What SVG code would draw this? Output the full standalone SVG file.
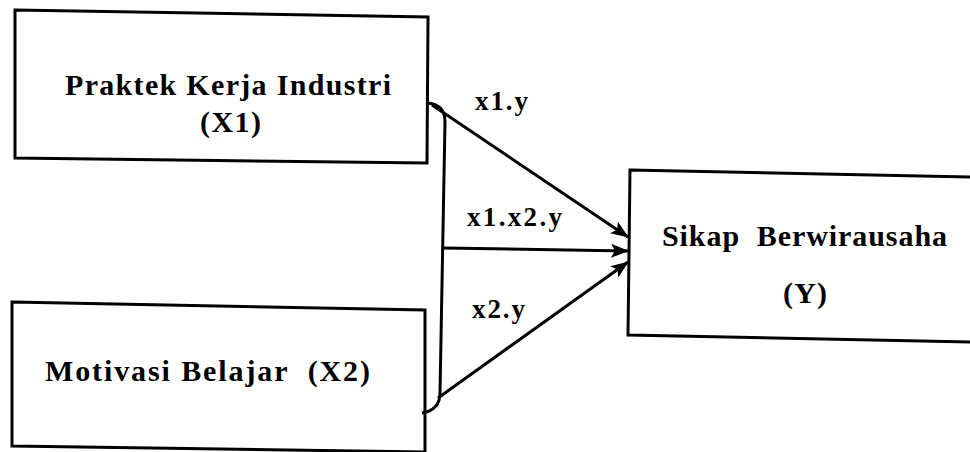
<svg xmlns="http://www.w3.org/2000/svg" width="970" height="452" viewBox="0 0 970 452">
<defs>
<style>
.box{fill:#fff;stroke:#000;stroke-width:3;stroke-linejoin:miter}
.t{font-family:"Liberation Serif","Times New Roman",serif;font-weight:bold;fill:#000;white-space:pre}
.big{font-size:30px}
.lbl{font-size:27px}
.c{fill:none;stroke:#000;stroke-width:3}
</style>
<marker id="ah" markerUnits="userSpaceOnUse" markerWidth="18" markerHeight="14" refX="17" refY="7" orient="auto">
<path d="M0,0 L18,7 L0,14 L4,7 z" fill="#000"/>
</marker>
</defs>
<rect width="970" height="452" fill="#fff"/>
<g id="x1">
<polygon class="box" points="15,10 428,17 427,163 15,158"/>
<text class="t big" x="65" y="95" textLength="326" lengthAdjust="spacing">Praktek Kerja Industri</text>
<text class="t big" x="200" y="132" textLength="61" lengthAdjust="spacing">(X1)</text>
</g>
<g id="x2">
<polygon class="box" points="12,302 425,310 425,452 12,446"/>
<text class="t big" x="45" y="381" textLength="325" lengthAdjust="spacing" xml:space="preserve">Motivasi Belajar  (X2)</text>
</g>
<g id="y">
<polygon class="box" points="630,170 975,177 975,342 628,335"/>
<text class="t big" x="662" y="246" textLength="285" lengthAdjust="spacing" xml:space="preserve">Sikap  Berwirausaha</text>
<text class="t big" x="783" y="303" textLength="44" lengthAdjust="spacing">(Y)</text>
</g>
<g id="connectors">
<path class="c" d="M427,103 Q445,104 445,122 L440,393 Q440,410 422,413"/>
<line class="c" x1="432" y1="105" x2="628" y2="237" marker-end="url(#ah)"/>
<line class="c" x1="443" y1="248" x2="628" y2="251" marker-end="url(#ah)"/>
<line class="c" x1="438" y1="398" x2="628" y2="262" marker-end="url(#ah)"/>
<text class="t lbl" x="475" y="110" textLength="53" lengthAdjust="spacing">x1.y</text>
<text class="t lbl" x="467" y="226" textLength="95" lengthAdjust="spacing">x1.x2.y</text>
<text class="t lbl" x="472" y="318" textLength="53" lengthAdjust="spacing">x2.y</text>
</g>
</svg>
